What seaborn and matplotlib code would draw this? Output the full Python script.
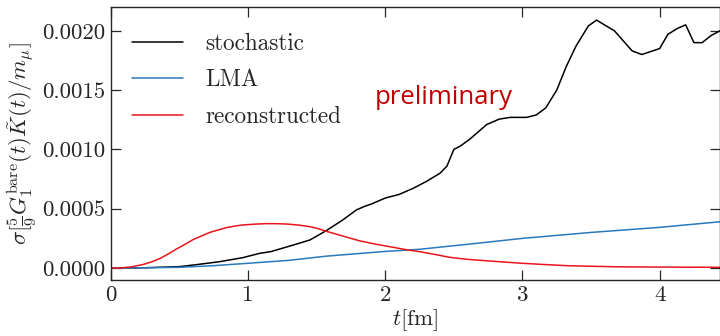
import numpy as np
import pandas as pd
import matplotlib
matplotlib.use("Agg")
import matplotlib.pyplot as plt
import seaborn as sns
from matplotlib.ticker import FormatStrFormatter

# ---- data ----
t_stoch = [0, 0.25, 0.5, 0.6, 0.79, 0.96, 1.085, 1.165, 1.33, 1.45, 1.57, 1.69,
           1.79, 1.85, 1.9, 2.0, 2.1, 2.2, 2.3, 2.4, 2.45, 2.5, 2.55, 2.62, 2.74,
           2.83, 2.91, 3.03, 3.10, 3.17, 3.25, 3.32, 3.39, 3.48, 3.54, 3.67, 3.80,
           3.87, 4.0, 4.06, 4.13, 4.19, 4.25, 4.31, 4.375, 4.44]
y_stoch = [0, 0.000002, 0.000012, 0.000025, 0.000053, 0.000087, 0.000124,
           0.000138, 0.000194, 0.000236, 0.000315, 0.000405, 0.00049, 0.00052,
           0.00054, 0.00059, 0.00062, 0.00067, 0.00073, 0.00080, 0.00086, 0.00100,
           0.00103, 0.00109, 0.00121, 0.001255, 0.00127, 0.00127, 0.00129,
           0.00135, 0.0015, 0.0017, 0.00187, 0.00204, 0.00209, 0.0020, 0.00183,
           0.0018, 0.00185, 0.00197, 0.00202, 0.00205, 0.0019, 0.0019, 0.00196,
           0.0020]

t_lma = [0, 0.3, 0.5, 0.75, 1.0, 1.3, 1.57, 2.0, 2.25, 2.6, 3.0, 3.5, 4.0, 4.44]
y_lma = [0, 0.000003, 0.000006, 0.00002, 0.00004, 0.000065, 0.0001, 0.00014,
         0.000158, 0.0002, 0.00025, 0.0003, 0.000343, 0.00039]

t_rec = [0, 0.066, 0.15, 0.235, 0.3, 0.357, 0.42, 0.478, 0.54, 0.6, 0.66, 0.72,
         0.78, 0.84, 0.9, 0.96, 1.05, 1.13, 1.2, 1.28, 1.37, 1.45, 1.51, 1.57,
         1.69, 1.81, 1.935, 2.056, 2.15, 2.25, 2.36, 2.47, 2.6, 2.75, 2.87, 3.0,
         3.15, 3.32, 3.5, 3.7, 4.0, 4.44]
y_rec = [0, 0, 0.00001, 0.00003, 0.000053, 0.00008, 0.00012, 0.00016, 0.0002,
         0.00024, 0.00027, 0.0003, 0.00032, 0.00034, 0.000353, 0.000363, 0.00037,
         0.000374, 0.000374, 0.000371, 0.000362, 0.000349, 0.000332, 0.00031,
         0.00027, 0.00023, 0.0002, 0.000175, 0.000155, 0.000138, 0.000115,
         0.00009, 0.000073, 0.00006, 0.00005, 0.00004, 0.00003, 0.00002,
         0.000015, 0.00001, 0.000008, 0.000006]

labels = ["stochastic", "LMA", "reconstructed"]
colors = ["black", "#2a78bd", "#e8151b"]
xticks = [0, 1, 2, 3, 4]
yticks = [0.0, 0.0005, 0.0010, 0.0015, 0.0020]

df = pd.concat([
    pd.DataFrame({"t": t_stoch, "v": y_stoch, "series": labels[0]}),
    pd.DataFrame({"t": t_lma, "v": y_lma, "series": labels[1]}),
    pd.DataFrame({"t": t_rec, "v": y_rec, "series": labels[2]}),
], ignore_index=True)

sns.set_style("ticks")
plt.rcParams["font.family"] = ["cmr10", "DejaVu Serif"]
plt.rcParams["mathtext.fontset"] = "cm"
plt.rcParams["axes.unicode_minus"] = False
plt.rcParams["axes.formatter.use_mathtext"] = True

fig = plt.figure(figsize=(7.2, 3.36), dpi=100)
ax = fig.add_axes([0.154, 0.167, 0.846, 0.812])

sns.lineplot(data=df, x="t", y="v", hue="series", hue_order=labels,
             palette=dict(zip(labels, colors)), estimator=None, sort=False,
             linewidth=1.1, ax=ax)

ax.set_xlim(0, 4.44)
ax.set_ylim(-0.0001, 0.0022)
ax.set_xticks(xticks)
ax.set_yticks(yticks)
ax.xaxis.set_major_formatter(FormatStrFormatter("%d"))
ax.yaxis.set_major_formatter(FormatStrFormatter("%.4f"))
ax.tick_params(direction="in", top=True, right=True, length=7, width=0.9,
               labelsize=16.5, pad=4)
for s in ax.spines.values():
    s.set_linewidth(1.0)

ax.set_xlabel(r"$t[\mathrm{fm}]$", fontsize=16.5, labelpad=2)
ax.set_ylabel(r"$\sigma[\frac{5}{9}G_1^{\mathrm{bare}}(t)\tilde{K}(t)/m_\mu]$",
              fontsize=16.5, labelpad=2)

leg = ax.legend(loc="upper left", frameon=False, fontsize=16.7, handlelength=2.2,
                handletextpad=1.0, labelspacing=0.62, borderaxespad=0.7,
                bbox_to_anchor=(-0.008, 1.0))

ax.text(2.43, 0.00144, "preliminary", color="#c00000", fontsize=18.5,
        family=["Open Sans", "DejaVu Sans"], ha="center", va="center")

fig.savefig("out.png", dpi=100)
